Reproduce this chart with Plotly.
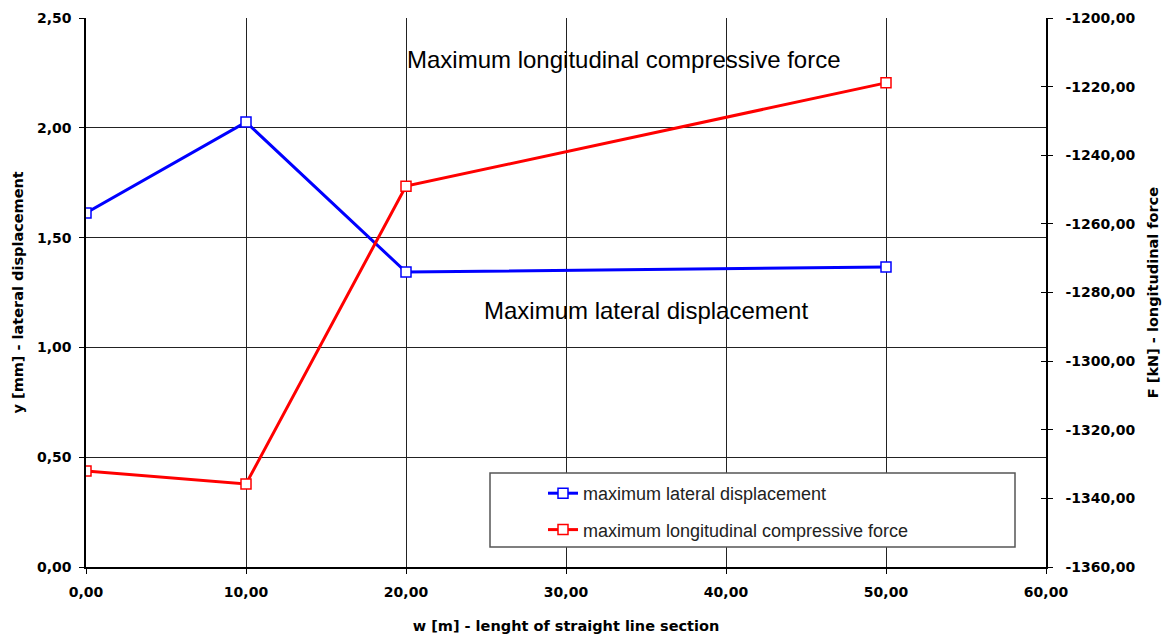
import plotly.graph_objects as go

w = [0, 10, 20, 50]
lateral_disp = [1.612, 2.026, 1.343, 1.366]
long_force = [-1332.0, -1335.8, -1249.0, -1218.9]

x_ticks = [0, 10, 20, 30, 40, 50, 60]
y_ticks = [0, 0.5, 1.0, 1.5, 2.0, 2.5]
y2_ticks = [-1360, -1340, -1320, -1300, -1280, -1260, -1240, -1220, -1200]


def fmt(v):
    return f"{v:.2f}".replace(".", ",")


fig = go.Figure()
fig.add_trace(go.Scatter(
    x=w, y=lateral_disp, name="maximum lateral displacement",
    mode="lines+markers", legendgroup="a",
    line=dict(color="#0000ff", width=3),
    marker=dict(symbol="square", size=10, color="white", line=dict(color="#0000ff", width=1.5)),
))
fig.add_trace(go.Scatter(
    x=w, y=long_force, name="maximum longitudinal compressive force",
    mode="lines+markers", yaxis="y2", legendgroup="b",
    line=dict(color="#ff0000", width=3),
    marker=dict(symbol="square", size=10, color="white", line=dict(color="#ff0000", width=1.5)),
))
# empty trace so the inner tick marks of the right axis are drawn
fig.add_trace(go.Scatter(x=[], y=[], yaxis="y3", showlegend=False, hoverinfo="skip"))

tickfont = dict(family="DejaVu Sans", size=14, color="black", weight="bold")
titlefont = dict(family="DejaVu Sans", size=14.5, color="black", weight="bold")

fig.update_layout(
    width=1168, height=638,
    margin=dict(l=86, r=122, t=18, b=71),
    paper_bgcolor="white", plot_bgcolor="white",
    showlegend=True,
    legend=dict(
        x=(543 - 86) / 960, y=(567 - 475) / 549, xanchor="left", yanchor="top",
        bgcolor="rgba(0,0,0,0)", borderwidth=0,
        font=dict(family="Liberation Sans", size=18, color="#222"),
        itemwidth=30, tracegroupgap=10, traceorder="grouped",
    ),
    xaxis=dict(
        range=[0, 60], tickvals=x_ticks, ticktext=[fmt(v) for v in x_ticks],
        showgrid=True, gridcolor="#222", gridwidth=1,
        showline=True, linecolor="black", linewidth=1.5,
        ticks="outside", ticklen=5, tickcolor="black", ticklabelstandoff=6,
        tickfont=tickfont, zeroline=False, automargin=False,
        title=dict(text="w [m] - lenght of straight line section", font=titlefont, standoff=22),
    ),
    yaxis=dict(
        range=[0, 2.5], tickvals=y_ticks, ticktext=[fmt(v) for v in y_ticks],
        showgrid=True, gridcolor="#222", gridwidth=1,
        showline=True, linecolor="black", linewidth=1.5,
        ticks="outside", ticklen=5, tickcolor="black", ticklabelstandoff=5,
        tickfont=tickfont, zeroline=False, automargin=False,
    ),
    yaxis2=dict(
        range=[-1360, -1200], tickvals=y2_ticks, ticktext=[fmt(v) for v in y2_ticks],
        overlaying="y", side="right", showgrid=False,
        showline=True, linecolor="black", linewidth=1.5,
        ticks="outside", ticklen=5, tickcolor="black", ticklabelstandoff=10,
        tickfont=tickfont, zeroline=False, automargin=False,
        title=dict(text="F [kN] - longitudinal force", font=titlefont, standoff=13),
    ),
    yaxis3=dict(
        range=[-1360, -1200], tickvals=y2_ticks, showticklabels=False,
        overlaying="y", side="right", anchor="x", showgrid=False, showline=False,
        ticks="inside", ticklen=5, tickcolor="black", zeroline=False, automargin=False,
    ),
)

fig.add_shape(type="rect", xref="paper", yref="paper",
              x0=(490 - 86) / 960, x1=(1015 - 86) / 960,
              y0=(567 - 547) / 549, y1=(567 - 473) / 549,
              line=dict(color="#555", width=1.5), fillcolor="white", layer="above")

fig.add_annotation(x=(17 - 86) / 960, y=0.5, xref="paper", yref="paper",
                   xanchor="center", yanchor="middle", textangle=-90,
                   text="y [mm] - lateral displacement", showarrow=False,
                   font=titlefont)
fig.add_annotation(x=(624 - 86) / 960, y=(567 - 60) / 549, xref="paper", yref="paper",
                   xanchor="center", yanchor="middle",
                   text="Maximum longitudinal compressive force", showarrow=False,
                   font=dict(family="Liberation Sans", size=24, color="black"))
fig.add_annotation(x=(646 - 86) / 960, y=(567 - 310) / 549, xref="paper", yref="paper",
                   xanchor="center", yanchor="middle",
                   text="Maximum lateral displacement", showarrow=False,
                   font=dict(family="Liberation Sans", size=24, color="black"))

fig.write_html("out.html")
